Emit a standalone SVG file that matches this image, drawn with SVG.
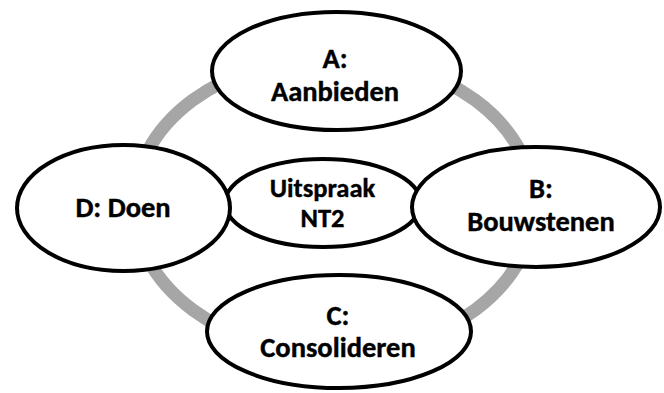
<svg xmlns="http://www.w3.org/2000/svg" width="664" height="393" viewBox="0 0 664 393">
  <style>
    .node { fill: #ffffff; stroke: #000000; stroke-width: 4; }
    .ring { fill: none; stroke: #a6a6a6; stroke-width: 13; }
    .lbl { font-family: Carlito, Lato, "Liberation Sans", sans-serif; font-weight: bold; font-size: 28.5px; fill: #000000; stroke: #000000; stroke-width: 0.4; text-anchor: middle; }
    .lbl-s { font-size: 26.5px; }
  </style>
  <rect width="664" height="393" fill="#ffffff"/>
  <g id="connectors">
    <ellipse class="ring" cx="334" cy="205" rx="200" ry="148"/>
  </g>
  <g id="node-a">
    <ellipse class="node" cx="336.5" cy="71" rx="124.5" ry="59"/>
    <text class="lbl" x="335" y="68">A:</text>
    <text class="lbl" x="335" y="101">Aanbieden</text>
  </g>
  <g id="node-c">
    <ellipse class="node" cx="339" cy="331.5" rx="132" ry="56.5"/>
    <text class="lbl" x="338" y="325">C:</text>
    <text class="lbl" x="338" y="357">Consolideren</text>
  </g>
  <g id="node-center">
    <ellipse class="node" cx="323" cy="203" rx="98" ry="44"/>
    <text class="lbl lbl-s" x="322.5" y="197">Uitspraak</text>
    <text class="lbl lbl-s" x="322.5" y="227">NT2</text>
  </g>
  <g id="node-d">
    <ellipse class="node" cx="123.5" cy="208" rx="106.5" ry="63"/>
    <text class="lbl" x="123" y="217">D: Doen</text>
  </g>
  <g id="node-b">
    <ellipse class="node" cx="536" cy="207" rx="124" ry="60"/>
    <text class="lbl" x="541" y="198">B:</text>
    <text class="lbl" x="541" y="231">Bouwstenen</text>
  </g>
</svg>
